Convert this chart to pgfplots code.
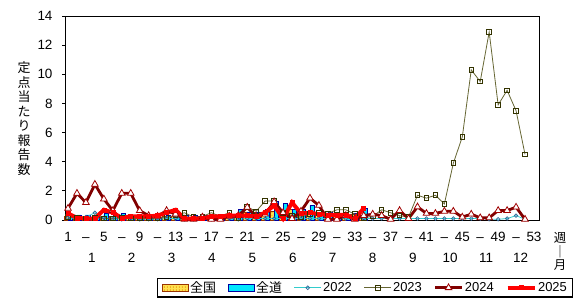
\documentclass[border=0pt]{standalone}
\usepackage{fontspec}
\setmainfont{Liberation Sans}
\newfontfamily\cjk{Noto Sans CJK JP}
\usepackage{pgfplots}
\pgfplotsset{compat=1.18}
\usetikzlibrary{patterns}
\definecolor{zkfill}{RGB}{255,225,80}
\definecolor{zkdots}{RGB}{235,140,0}
\definecolor{zkdraw}{RGB}{153,51,0}
\definecolor{zdfill}{RGB}{0,230,255}
\definecolor{zddraw}{RGB}{0,0,160}
\definecolor{c22}{RGB}{51,204,204}
\definecolor{c22m}{RGB}{51,102,153}
\definecolor{c23}{RGB}{102,102,51}
\definecolor{c23m}{RGB}{51,51,0}
\definecolor{c24}{RGB}{128,0,0}
\definecolor{c24m}{RGB}{160,0,0}
\definecolor{c25}{RGB}{255,0,0}
\begin{document}
\begin{tikzpicture}
\useasboundingbox (0bp,0bp) rectangle (579bp,299bp);
\begin{axis}[
  at={(65bp,79bp)}, anchor=south west,
  scale only axis, width=474bp, height=204bp,
  xmin=0.665, xmax=53.56, ymin=0, ymax=14,
  clip=false,
  axis line style={black, line width=0.9bp},
  ytick={0,2,...,14},
  xtick={1,3,...,53},
  xticklabels={1,--,5,--,9,--,13,--,17,--,21,--,25,--,29,--,33,--,37,--,41,--,45,--,49,--,53},
  tick align=outside,
  ytick pos=left, xtick pos=bottom,
  major tick length=3bp,
  ytick style={black, line width=0.8bp},
  xtick style={draw=none},
  /pgf/number format/assume math mode=true,
  tick label style={font=\fontsize{13.5}{15}\selectfont},
  yticklabel style={xshift=-6bp},
  xticklabel style={yshift=-5bp, text height=9.8bp, text depth=0bp},
  legend image code/.code={\draw[mark repeat=2,mark phase=2,#1] plot coordinates {(0bp,0bp)(13.5bp,0bp)(27bp,0bp)};},
  legend columns=6,
  legend cell align=left,
  legend style={at={(1.0717,-0.284)}, anchor=north east, draw=black, line width=1.2bp,
    font=\fontsize{13}{15}\selectfont, inner xsep=4bp, inner ysep=1.5bp,
    nodes={inner sep=1.5bp},
    /tikz/every even column/.append style={column sep=10.3bp}},
]
% national bars
\addplot[ybar, bar width=4bp, bar shift=-2bp, draw=zkdraw, line width=0.6bp, fill=zkfill,
  postaction={pattern=dots, pattern color=zkdots},
  legend image code/.code={\draw[draw=zkdraw, line width=0.8bp, fill=zkfill, postaction={pattern=dots, pattern color=zkdots}] (0bp,-3.5bp) rectangle (26bp,3.5bp);}]
coordinates {(1,0.25)(2,0.2)(3,0.2)(4,0.2)(5,0.25)(6,0.25)(7,0.2)(8,0.2)(9,0.2)(10,0.2)(11,0.2)(12,0.25)(13,0.25)(14,0.2)(15,0.2)(16,0.25)(17,0.3)(18,0.3)(19,0.35)(20,0.4)(21,0.55)(22,0.5)(23,0.55)(24,0.6)(25,0.6)(26,0.7)(27,0.55)(28,0.55)(29,0.5)(30,0.45)(31,0.45)(32,0.4)(33,0.4)(34,0.35)};
\addlegendentry{\cjk 全国}
% Hokkaido bars
\addplot[ybar, bar width=4bp, bar shift=2bp, draw=zddraw, line width=0.6bp, fill=zdfill,
  legend image code/.code={\draw[draw=zddraw, line width=0.8bp, fill=zdfill] (0bp,-3.5bp) rectangle (26bp,3.5bp);}]
coordinates {(1,0.2)(2,0.35)(3,0.35)(4,0.25)(5,0.45)(6,0.3)(7,0.45)(8,0.2)(9,0.2)(10,0.2)(11,0.15)(12,0.35)(13,0.3)(14,0.35)(15,0.35)(16,0.3)(17,0.35)(18,0.3)(19,0.3)(20,0.7)(21,0.55)(22,0.55)(23,0.75)(24,1.25)(25,1.15)(26,0.75)(27,0.7)(28,1.0)(29,0.55)(30,0.55)(31,0.35)(32,0.35)(33,0.45)(34,0.8)};
\addlegendentry{\cjk 全道}
% 2022
\addplot[color=c22, line width=0.8bp, mark=o, mark size=1.8bp, mark options={draw=c22m, fill=white, line width=0.7bp}]
coordinates {(1,0.15)(2,0.1)(3,0.2)(4,0.5)(5,0.15)(6,0.1)(7,0.05)(8,0.1)(9,0.05)(10,0.05)(11,0.05)(12,0.1)(13,0.1)(14,0.05)(15,0.05)(16,0.1)(17,0.05)(18,0.1)(19,0.1)(20,0.05)(21,0.1)(22,0.1)(23,0.1)(24,0.1)(25,0.1)(26,0.1)(27,0.1)(28,0.1)(29,0.1)(30,0.1)(31,0.1)(32,0.1)(33,0.1)(34,0.1)(35,0.1)(36,0.1)(37,0.1)(38,0.1)(39,0.1)(40,0.1)(41,0.1)(42,0.1)(43,0.1)(44,0.1)(45,0.1)(46,0.1)(47,0.1)(48,0.05)(49,0.05)(50,0.1)(51,0.3)(52,0.05)};
\addlegendentry{2022}
% 2023
\addplot[color=c23, line width=0.8bp, mark=square, mark size=2.3bp, mark options={draw=c23m, fill=white, line width=0.9bp}]
coordinates {(1,0.2)(2,0.15)(3,0.1)(4,0.15)(5,0.1)(6,0.1)(7,0.15)(8,0.1)(9,0.1)(10,0.1)(11,0.15)(12,0.2)(13,0.3)(14,0.5)(15,0.2)(16,0.25)(17,0.5)(18,0.25)(19,0.5)(20,0.15)(21,0.9)(22,0.6)(23,1.3)(24,1.3)(25,0.5)(26,0.3)(27,0.2)(28,0.4)(29,0.5)(30,0.45)(31,0.7)(32,0.7)(33,0.4)(34,0.15)(35,0.25)(36,0.7)(37,0.5)(38,0.3)(39,0.2)(40,1.7)(41,1.5)(42,1.7)(43,1.1)(44,3.9)(45,5.7)(46,10.3)(47,9.5)(48,12.9)(49,7.9)(50,8.9)(51,7.5)(52,4.5)};
\addlegendentry{2023}
% 2024
\addplot[color=c24, line width=2.8bp, mark=triangle*, mark size=3.8bp, mark options={draw=c24m, fill=white, line width=0.8bp}]
coordinates {(1,0.8)(2,1.83)(3,1.2)(4,2.45)(5,1.44)(6,0.64)(7,1.83)(8,1.83)(9,0.64)(10,0.3)(11,0.25)(12,0.65)(13,0.4)(14,0.05)(15,0.05)(16,0.2)(17,0.05)(18,0.05)(19,0.25)(20,0.3)(21,0.87)(22,0.25)(23,0.4)(24,1.25)(25,0.5)(26,0.1)(27,0.6)(28,1.5)(29,1.0)(30,0.05)(31,0.05)(32,0.3)(33,0.05)(34,0.3)(35,0.4)(36,0.3)(37,0.05)(38,0.65)(39,0.1)(40,0.9)(41,0.45)(42,0.45)(43,0.6)(44,0.6)(45,0.2)(46,0.4)(47,0.15)(48,0.15)(49,0.65)(50,0.65)(51,0.88)(52,0.05)};
\addlegendentry{2024}
% 2025
\addplot[color=c25, line width=4bp, mark=square*, mark size=2bp, mark options={fill=c25, draw=c25, line width=0.5bp}]
coordinates {(1,0.45)(2,0.15)(3,0.1)(4,0.1)(5,0.7)(6,0.5)(7,0.15)(8,0.25)(9,0.25)(10,0.25)(11,0.3)(12,0.5)(13,0.7)(14,0.1)(15,0.1)(16,0.1)(17,0.25)(18,0.25)(19,0.3)(20,0.3)(21,0.3)(22,0.25)(23,0.5)(24,1.0)(25,0.1)(26,1.2)(27,0.45)(28,0.5)(29,0.4)(30,0.35)(31,0.35)(32,0.35)(33,0.1)(34,0.8)};
\addlegendentry{2025}
% month labels
\foreach \w/\m in {3.65/1,8.1/2,12.57/3,17.04/4,21.57/5,26.08/6,30.54/7,35.0/8,39.47/9,43.63/10,47.65/11,51.5/12}{
  \edef\tmp{\noexpand\node[font=\noexpand\fontsize{13.5}{15}\noexpand\selectfont, yshift=-37.5bp] at (axis cs:\w,0) {\m};}\tmp
}
\end{axis}
\node[font=\cjk\fontsize{13}{14.6}\selectfont, align=center] at (24bp,180.5bp) {定\\点\\当\\た\\り\\報\\告\\数};
\node[font=\cjk\fontsize{12.5}{13.5}\selectfont, align=center] at (560bp,47.5bp) {週\\｜\\月};
\end{tikzpicture}
\end{document}
